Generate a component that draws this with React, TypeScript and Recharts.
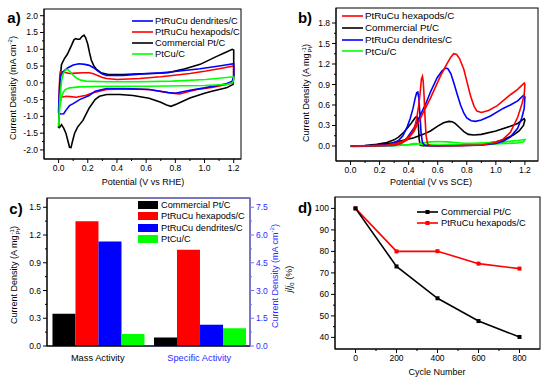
import React from 'react';
import { LineChart, Line, XAxis, YAxis, BarChart, Bar, ReferenceArea } from 'recharts';

const FONT = '"Liberation Sans", Arial, Helvetica, sans-serif';
const BLUE = '#0000ff';
const RED = '#ff0000';
const BLACK = '#000000';
const GREEN = '#00ff00';
const AXIS_BLUE = '#7373ff';
const TEXT_BLUE = '#2b2bff';

// a) CVs, potential (V vs RHE) vs current density (mA cm-2)
const cvaDendrites: [number, number][] = [
  [0.0, -0.9], [0.003, -0.5], [0.008, 0.0], [0.015, 0.22], [0.03, 0.33], [0.064, 0.45], [0.1, 0.53],
  [0.14, 0.57], [0.18, 0.55], [0.21, 0.52], [0.24, 0.45], [0.27, 0.35], [0.3, 0.26], [0.33, 0.22],
  [0.44, 0.22], [0.555, 0.26], [0.7, 0.3], [0.78, 0.33], [0.97, 0.42], [1.1, 0.5], [1.2, 0.57],
  [1.2, 0.2], [1.19, 0.05], [1.15, -0.03], [1.0, -0.15], [0.9, -0.22], [0.8, -0.31], [0.75, -0.29],
  [0.62, -0.2], [0.45, -0.17], [0.33, -0.17], [0.25, -0.25], [0.21, -0.38], [0.144, -0.5],
  [0.1, -0.62], [0.075, -0.68], [0.05, -0.82], [0.035, -0.92], [0.015, -0.93], [0.0, -0.9],
];
const cvaHexapods: [number, number][] = [
  [0.0, -0.85], [0.004, -0.3], [0.008, 0.2], [0.012, 0.33], [0.03, 0.32], [0.075, 0.28], [0.12, 0.29],
  [0.167, 0.3], [0.21, 0.3], [0.24, 0.27], [0.26, 0.23], [0.3, 0.16], [0.33, 0.13], [0.4, 0.1],
  [0.555, 0.13], [0.7, 0.18], [0.78, 0.22], [0.9, 0.28], [1.01, 0.35], [1.1, 0.42], [1.2, 0.5],
  [1.2, 0.15], [1.19, 0.0], [1.15, -0.05], [1.06, -0.13], [0.95, -0.2], [0.9, -0.25], [0.83, -0.33],
  [0.76, -0.3], [0.62, -0.2], [0.45, -0.18], [0.33, -0.2], [0.23, -0.3], [0.19, -0.37], [0.12, -0.43],
  [0.08, -0.41], [0.053, -0.4], [0.02, -0.43], [0.008, -0.6], [0.0, -0.85],
];
const cvaCommercial: [number, number][] = [
  [0.0, -1.35], [0.005, -0.6], [0.012, 0.2], [0.02, 0.55], [0.04, 0.72], [0.06, 0.85], [0.087, 1.1],
  [0.105, 1.28], [0.117, 1.32], [0.13, 1.3], [0.145, 1.3], [0.16, 1.38], [0.174, 1.42], [0.185, 1.35],
  [0.2, 1.15], [0.212, 0.9], [0.224, 0.68], [0.24, 0.52], [0.26, 0.4], [0.29, 0.3], [0.34, 0.25],
  [0.44, 0.25], [0.555, 0.27], [0.65, 0.28], [0.75, 0.3], [0.85, 0.4], [0.97, 0.55], [1.08, 0.78],
  [1.15, 0.92], [1.19, 1.0], [1.2, 0.98], [1.2, 0.2], [1.195, -0.05], [1.15, -0.15], [1.05, -0.25],
  [1.0, -0.31], [0.9, -0.45], [0.81, -0.63], [0.77, -0.7], [0.74, -0.66], [0.7, -0.58], [0.62, -0.46],
  [0.51, -0.38], [0.42, -0.35], [0.33, -0.35], [0.28, -0.4], [0.25, -0.5], [0.21, -0.75], [0.167, -1.12],
  [0.13, -1.32], [0.11, -1.5], [0.095, -1.75], [0.085, -1.93], [0.075, -1.92], [0.065, -1.75],
  [0.05, -1.5], [0.035, -1.35], [0.02, -1.25], [0.008, -1.32], [0.0, -1.35],
];
const cvaPtCu: [number, number][] = [
  [0.0, -1.3], [0.005, -0.8], [0.01, -0.4], [0.02, 0.05], [0.034, 0.3], [0.053, 0.4], [0.065, 0.39],
  [0.075, 0.35], [0.095, 0.25], [0.12, 0.15], [0.15, 0.08], [0.19, 0.05], [0.33, 0.03], [0.55, 0.03],
  [0.78, 0.05], [1.01, 0.1], [1.2, 0.18], [1.2, 0.08], [1.19, 0.0], [1.15, -0.05], [1.0, -0.08],
  [0.6, -0.1], [0.3, -0.1], [0.144, -0.12], [0.075, -0.15], [0.045, -0.2], [0.03, -0.3], [0.015, -0.5],
  [0.005, -0.9], [0.0, -1.3],
];
const cvaXTicks = [0, 0.1, 0.2, 0.3, 0.4, 0.5, 0.6, 0.7, 0.8, 0.9, 1.0, 1.1, 1.2];
const cvaXMajor = [0, 0.2, 0.4, 0.6, 0.8, 1.0, 1.2];
const cvaYTicks = [-2, -1.75, -1.5, -1.25, -1, -0.75, -0.5, -0.25, 0, 0.25, 0.5, 0.75, 1, 1.25, 1.5, 1.75, 2];
const cvaYMajor = [-2, -1.5, -1, -0.5, 0, 0.5, 1, 1.5, 2];

// b) methanol oxidation, potential (V vs SCE) vs mass current (A mg-1 Pt)
const cvbHexapods: [number, number][] = [
  [0, 0], [0.1, 0.0], [0.2, 0.005], [0.3, 0.012], [0.35, 0.04], [0.39, 0.09], [0.436, 0.21], [0.48, 0.4],
  [0.55, 0.7], [0.62, 1.03], [0.665, 1.21], [0.69, 1.3], [0.71, 1.35], [0.73, 1.34], [0.75, 1.28],
  [0.78, 1.12], [0.8, 0.95], [0.826, 0.73], [0.85, 0.58], [0.87, 0.51], [0.9, 0.49], [0.95, 0.52],
  [1.01, 0.59], [1.1, 0.75], [1.15, 0.83], [1.195, 0.92], [1.2, 0.9], [1.195, 0.75], [1.18, 0.62],
  [1.15, 0.42], [1.1, 0.2], [1.05, 0.1], [1.0, 0.05], [0.9, 0.015], [0.75, 0.005], [0.6, 0.003],
  [0.55, 0.008], [0.53, 0.03], [0.52, 0.15], [0.513, 0.4], [0.507, 0.7], [0.5, 0.95], [0.495, 1.02],
  [0.488, 0.98], [0.48, 0.8], [0.47, 0.6], [0.455, 0.4], [0.44, 0.26], [0.413, 0.16], [0.37, 0.08],
  [0.32, 0.04], [0.25, 0.015], [0.15, 0.005], [0, 0],
];
const cvbCommercial: [number, number][] = [
  [0, 0], [0.15, 0.005], [0.2, 0.015], [0.25, 0.03], [0.32, 0.06], [0.436, 0.12], [0.5, 0.17], [0.55, 0.22],
  [0.6, 0.29], [0.64, 0.34], [0.677, 0.36], [0.7, 0.355], [0.72, 0.33], [0.75, 0.27], [0.78, 0.21],
  [0.81, 0.17], [0.85, 0.16], [0.9, 0.17], [1.0, 0.22], [1.1, 0.29], [1.15, 0.33], [1.195, 0.4],
  [1.2, 0.38], [1.19, 0.3], [1.16, 0.22], [1.12, 0.16], [1.05, 0.09], [1.0, 0.06], [0.9, 0.025],
  [0.8, 0.01], [0.6, 0.003], [0.5, 0.003], [0.48, 0.01], [0.472, 0.1], [0.467, 0.3], [0.462, 0.41],
  [0.455, 0.43], [0.447, 0.42], [0.43, 0.37], [0.413, 0.32], [0.39, 0.26], [0.367, 0.2], [0.33, 0.13],
  [0.3, 0.09], [0.25, 0.05], [0.18, 0.025], [0.1, 0.008], [0, 0],
];
const cvbDendrites: [number, number][] = [
  [0, 0], [0.2, 0.003], [0.3, 0.008], [0.35, 0.04], [0.39, 0.12], [0.436, 0.26], [0.48, 0.45], [0.52, 0.63],
  [0.55, 0.79], [0.596, 1.0], [0.63, 1.1], [0.654, 1.14], [0.67, 1.13], [0.69, 1.06], [0.71, 0.93],
  [0.735, 0.75], [0.757, 0.6], [0.78, 0.48], [0.8, 0.41], [0.83, 0.37], [0.86, 0.36], [0.9, 0.38],
  [0.963, 0.44], [1.05, 0.55], [1.1, 0.6], [1.15, 0.66], [1.19, 0.74], [1.2, 0.72], [1.195, 0.55],
  [1.18, 0.42], [1.15, 0.26], [1.1, 0.13], [1.05, 0.07], [1.0, 0.035], [0.9, 0.01], [0.7, 0.003],
  [0.55, 0.003], [0.51, 0.01], [0.495, 0.05], [0.485, 0.2], [0.478, 0.45], [0.47, 0.7], [0.463, 0.79],
  [0.455, 0.78], [0.445, 0.7], [0.43, 0.55], [0.41, 0.4], [0.39, 0.28], [0.36, 0.15], [0.33, 0.08],
  [0.28, 0.03], [0.2, 0.01], [0, 0],
];
const cvbPtCu: [number, number][] = [
  [0, -0.01], [0.2, 0.0], [0.3, 0.005], [0.4, 0.015], [0.45, 0.025], [0.5, 0.045], [0.55, 0.06], [0.6, 0.065],
  [0.665, 0.06], [0.72, 0.05], [0.78, 0.04], [0.85, 0.04], [0.95, 0.05], [1.05, 0.06], [1.15, 0.08],
  [1.2, 0.095], [1.19, 0.06], [1.15, 0.045], [1.0, 0.03], [0.8, 0.02], [0.6, 0.015], [0.5, 0.02],
  [0.45, 0.035], [0.43, 0.035], [0.4, 0.02], [0.3, 0.01], [0.2, 0.0], [0, -0.01],
];
const cvbXTicks = [0, 0.1, 0.2, 0.3, 0.4, 0.5, 0.6, 0.7, 0.8, 0.9, 1.0, 1.1, 1.2];
const cvbXMajor = [0, 0.2, 0.4, 0.6, 0.8, 1.0, 1.2];
const cvbYTicks = [0, 0.15, 0.3, 0.45, 0.6, 0.75, 0.9, 1.05, 1.2, 1.35, 1.5, 1.65, 1.8];
const cvbYMajor = [0, 0.3, 0.6, 0.9, 1.2, 1.5, 1.8];

// c) mass and specific activity
const activityNames = ['Commercial Pt/C', 'PtRuCu hexapods/C', 'PtRuCu dendrites/C', 'PtCu/C'];
const activityColors = [BLACK, RED, BLUE, GREEN];
const massActivity = [0.35, 1.35, 1.13, 0.13]; // A mg-1 Pt
const specificActivity = [0.46, 5.2, 1.15, 0.96]; // mA cm-2
const actLeftTicks = [0, 0.15, 0.3, 0.45, 0.6, 0.75, 0.9, 1.05, 1.2, 1.35, 1.5];
const actLeftMajor = [0, 0.3, 0.6, 0.9, 1.2, 1.5];
const actRightTicks = [0, 0.75, 1.5, 2.25, 3, 3.75, 4.5, 5.25, 6, 6.75, 7.5];
const actRightMajor = [0, 1.5, 3, 4.5, 6, 7.5];

// d) stability
const cycles = [0, 200, 400, 600, 800];
const retentionCommercial = [100, 73, 58.2, 47.6, 40.2];
const retentionHexapods = [100, 80, 80.1, 74.3, 72];
const cycleTicks = [0, 100, 200, 300, 400, 500, 600, 700, 800];
const cycleMajor = [0, 200, 400, 600, 800];
const retTicks = [40, 45, 50, 55, 60, 65, 70, 75, 80, 85, 90, 95, 100];
const retMajor = [40, 50, 60, 70, 80, 90, 100];

const toXY = (pts: [number, number][]) => pts.map(([x, y]) => ({ x, y }));

const activityRows = [
  massActivity.reduce((row: any, v, i) => ({ ...row, [`m${i}`]: v }), { cat: 'Mass Activity' }),
  specificActivity.reduce((row: any, v, i) => ({ ...row, [`s${i}`]: v }), { cat: 'Specific Activity' }),
];
const stabilityRows = cycles.map((c, i) => ({
  cycle: c,
  commercial: retentionCommercial[i],
  hexapods: retentionHexapods[i],
}));

const f1 = (v: number) => v.toFixed(1);
const f0 = (v: number) => String(v);

type Side = 'left' | 'right' | 'bottom';
const tickRenderer = (side: Side, majors: number[], fmt: (v: number) => string, color = BLACK, textColor = BLACK) =>
  (props: any) => {
    const { x, y, payload } = props;
    const v = Number(payload.value);
    const major = majors.some((m) => Math.abs(m - v) < 1e-9);
    const len = major ? 4 : 2;
    if (side === 'bottom') {
      return (
        <g>
          <line x1={x} x2={x} y1={y} y2={y + len} stroke={color} />
          {major && (
            <text x={x} y={y + 12} textAnchor="middle" fontSize={8.5} fontFamily={FONT} fill={textColor}>
              {fmt(v)}
            </text>
          )}
        </g>
      );
    }
    const dir = side === 'left' ? -1 : 1;
    return (
      <g>
        <line x1={x} x2={x + dir * len} y1={y} y2={y} stroke={color} />
        {major && (
          <text x={x + dir * 6} y={y + 3} textAnchor={dir < 0 ? 'end' : 'start'} fontSize={8.5} fontFamily={FONT} fill={textColor}>
            {fmt(v)}
          </text>
        )}
      </g>
    );
  };

const catTick = (props: any) => {
  const { x, y, payload } = props;
  const col = payload.value === 'Specific Activity' ? TEXT_BLUE : BLACK;
  return (
    <text x={x} y={y + 15} textAnchor="middle" fontSize={9.3} fontFamily={FONT} fill={col}>
      {payload.value}
    </text>
  );
};

const frame = (color: string, sides: 'all' | 'tb' = 'all') => (p: any) => {
  const { x, y, width, height } = p;
  if (sides === 'tb') {
    return (
      <g>
        <line x1={x} x2={x + width} y1={y} y2={y} stroke={color} />
        <line x1={x} x2={x + width} y1={y + height} y2={y + height} stroke={color} />
      </g>
    );
  }
  return <rect x={x} y={y} width={width} height={height} fill="none" stroke={color} />;
};

const mgPt = (
  <span style={{ display: 'inline-flex', flexDirection: 'column', fontSize: 6, lineHeight: '6px', verticalAlign: 'middle', marginLeft: 1 }}>
    <span>-1</span>
    <span>Pt</span>
  </span>
);

type LegendItem = { name: string; color: string };
const Legend = ({ left, top, rowH, fontSize, items, kind, gap }: {
  left: number; top: number; rowH: number; fontSize: number; items: LegendItem[]; kind: 'line' | 'box' | 'marker'; gap: number;
}) => (
  <>
    {items.map((it, i) => (
      <div key={it.name} style={{
        position: 'absolute', left, top: top + i * rowH - 6, height: 12, display: 'flex', alignItems: 'center',
        whiteSpace: 'nowrap', fontFamily: FONT, fontSize, color: BLACK,
      }}>
        <svg width={kind === 'box' ? 20 : 21} height={12} style={{ display: 'block' }}>
          {kind === 'box' && <rect x={0} y={2} width={20} height={8} fill={it.color} />}
          {kind !== 'box' && <line x1={0} x2={21} y1={6} y2={6} stroke={it.color} strokeWidth={1.6} />}
          {kind === 'marker' && <rect x={8.5} y={4} width={4} height={4} fill={it.color} />}
        </svg>
        <span style={{ marginLeft: gap }}>{it.name}</span>
      </div>
    ))}
  </>
);

const Txt = ({ x, y, rotate, size = 9, color = BLACK, children, bold }: any) => (
  <div style={{
    position: 'absolute', left: x, top: y, transform: `translate(-50%, -50%)${rotate ? ' rotate(-90deg)' : ''}`,
    whiteSpace: 'nowrap', fontFamily: FONT, fontSize: size, color, fontWeight: bold ? 'bold' : 'normal', lineHeight: 1,
  }}>
    {children}
  </div>
);

const squareDot = (color: string) => (p: any) => (
  <rect key={`${color}-${p.index}`} x={p.cx - 2} y={p.cy - 2} width={4} height={4} fill={color} />
);

export default function App() {
  return (
    <div style={{ position: 'absolute', left: 0, top: 0, width: 549, height: 385, background: '#fff', overflow: 'hidden' }}>
      {/* a) */}
      <div style={{ position: 'absolute', left: 0, top: 0 }}>
        <LineChart width={275} height={190} margin={{ top: 9, right: 34, bottom: 11, left: 4 }}>
          <XAxis type="number" dataKey="x" domain={[-0.1, 1.25]} allowDataOverflow ticks={cvaXTicks} interval={0}
            tickSize={0} tickMargin={0} tickLine={false} height={20} stroke={BLACK}
            tick={tickRenderer('bottom', cvaXMajor, f1)} />
          <YAxis type="number" dataKey="y" domain={[-2.27, 2.2]} allowDataOverflow ticks={cvaYTicks} interval={0}
            tickSize={0} tickMargin={0} tickLine={false} width={40} stroke={BLACK}
            tick={tickRenderer('left', cvaYMajor, f1)} />
          <ReferenceArea y1={-2.27} y2={2.2} shape={frame(BLACK)} />
          <Line data={toXY(cvaCommercial)} dataKey="y" type="linear" stroke={BLACK} strokeWidth={1.6} dot={false} isAnimationActive={false} />
          <Line data={toXY(cvaHexapods)} dataKey="y" type="linear" stroke={RED} strokeWidth={1.6} dot={false} isAnimationActive={false} />
          <Line data={toXY(cvaDendrites)} dataKey="y" type="linear" stroke={BLUE} strokeWidth={1.6} dot={false} isAnimationActive={false} />
          <Line data={toXY(cvaPtCu)} dataKey="y" type="linear" stroke={GREEN} strokeWidth={1.6} dot={false} isAnimationActive={false} />
        </LineChart>
      </div>
      {/* b) */}
      <div style={{ position: 'absolute', left: 275, top: 0 }}>
        <LineChart width={274} height={190} margin={{ top: 8, right: 11, bottom: 9, left: 1 }}>
          <XAxis type="number" dataKey="x" domain={[-0.1, 1.29]} allowDataOverflow ticks={cvbXTicks} interval={0}
            tickSize={0} tickMargin={0} tickLine={false} height={20} stroke={BLACK}
            tick={tickRenderer('bottom', cvbXMajor, f1)} />
          <YAxis type="number" dataKey="y" domain={[-0.22, 2.02]} allowDataOverflow ticks={cvbYTicks} interval={0}
            tickSize={0} tickMargin={0} tickLine={false} width={60} stroke={BLACK}
            tick={tickRenderer('left', cvbYMajor, f1)} />
          <ReferenceArea y1={-0.22} y2={2.02} shape={frame(BLACK)} />
          <Line data={toXY(cvbCommercial)} dataKey="y" type="linear" stroke={BLACK} strokeWidth={1.6} dot={false} isAnimationActive={false} />
          <Line data={toXY(cvbPtCu)} dataKey="y" type="linear" stroke={GREEN} strokeWidth={1.6} dot={false} isAnimationActive={false} />
          <Line data={toXY(cvbDendrites)} dataKey="y" type="linear" stroke={BLUE} strokeWidth={1.6} dot={false} isAnimationActive={false} />
          <Line data={toXY(cvbHexapods)} dataKey="y" type="linear" stroke={RED} strokeWidth={1.6} dot={false} isAnimationActive={false} />
        </LineChart>
      </div>
      {/* c) */}
      <div style={{ position: 'absolute', left: 0, top: 190 }}>
        <BarChart width={275} height={195} data={activityRows} margin={{ top: 8, right: 5, bottom: 19, left: 7 }}
          barCategoryGap="5.4%" barGap={0}>
          <XAxis xAxisId="m" dataKey="cat" type="category" height={20} tickLine={false} stroke={BLACK}
            tickSize={0} tickMargin={0} tick={catTick} interval={0} />
          <XAxis xAxisId="s" dataKey="cat" type="category" hide />
          <YAxis yAxisId="left" domain={[0, 1.6]} allowDataOverflow ticks={actLeftTicks} interval={0}
            tickSize={0} tickMargin={0} tickLine={false} width={40} stroke={BLACK}
            tick={tickRenderer('left', actLeftMajor, f1)} />
          <YAxis yAxisId="right" orientation="right" domain={[0, 8]} allowDataOverflow ticks={actRightTicks} interval={0}
            tickSize={0} tickMargin={0} tickLine={false} width={20} stroke={AXIS_BLUE}
            tick={tickRenderer('right', actRightMajor, f1, AXIS_BLUE, TEXT_BLUE)} />
          <ReferenceArea xAxisId="m" yAxisId="left" y1={0} y2={1.6} shape={frame(BLACK)} />
          <ReferenceArea xAxisId="m" yAxisId="left" x1="Specific Activity" x2="Specific Activity" y1={0} y2={1.6}
            shape={frame(AXIS_BLUE, 'tb')} />
          {activityNames.map((n, i) => (
            <Bar key={`m${i}`} xAxisId="m" yAxisId="left" dataKey={`m${i}`} name={n} fill={activityColors[i]} isAnimationActive={false} />
          ))}
          {activityNames.map((n, i) => (
            <Bar key={`s${i}`} xAxisId="s" yAxisId="right" dataKey={`s${i}`} name={n} fill={activityColors[i]} isAnimationActive={false} />
          ))}
        </BarChart>
      </div>
      {/* d) */}
      <div style={{ position: 'absolute', left: 275, top: 190 }}>
        <LineChart width={274} height={195} data={stabilityRows} margin={{ top: 7, right: 9, bottom: 16, left: 0 }}>
          <XAxis type="number" dataKey="cycle" domain={[-100, 900]} allowDataOverflow ticks={cycleTicks} interval={0}
            tickSize={0} tickMargin={0} tickLine={false} height={20} stroke={BLACK}
            tick={tickRenderer('bottom', cycleMajor, f0)} />
          <YAxis type="number" domain={[34.6, 105.3]} allowDataOverflow ticks={retTicks} interval={0}
            tickSize={0} tickMargin={0} tickLine={false} width={60} stroke={BLACK}
            tick={tickRenderer('left', retMajor, f0)} />
          <ReferenceArea y1={34.6} y2={105.3} shape={frame(BLACK)} />
          <Line dataKey="hexapods" type="linear" stroke={RED} strokeWidth={1.6} dot={squareDot(RED)} isAnimationActive={false} />
          <Line dataKey="commercial" type="linear" stroke={BLACK} strokeWidth={1.6} dot={squareDot(BLACK)} isAnimationActive={false} />
        </LineChart>
      </div>

      {/* panel labels */}
      <Txt x={14} y={17} size={15} bold>a)</Txt>
      <Txt x={305} y={17} size={15} bold>b)</Txt>
      <Txt x={16} y={208} size={15} bold>c)</Txt>
      <Txt x={305} y={207} size={15} bold>d)</Txt>

      {/* axis titles */}
      <Txt x={143} y={182}>Potential (V vs RHE)</Txt>
      <Txt x={12} y={88} rotate>Current Density (mA cm<sup style={{ fontSize: 6 }}>-2</sup>)</Txt>
      <Txt x={431} y={182}>Potential (V vs SCE)</Txt>
      <Txt x={307} y={93} rotate>Current Density (A mg{mgPt})</Txt>
      <Txt x={15} y={275} rotate>Current Density (A mg{mgPt})</Txt>
      <Txt x={274} y={276} rotate color={TEXT_BLUE}>Current Density (mA cm<sup style={{ fontSize: 6 }}>-2</sup>)</Txt>
      <Txt x={437} y={372}>Cycle Number</Txt>
      <Txt x={290} y={279} rotate><i>j</i>/<i>j</i><sub style={{ fontSize: 6 }}>0</sub> (%)</Txt>

      {/* legends */}
      <Legend left={132} top={21} rowH={11.1} fontSize={9.3} kind="line" gap={2}
        items={[{ name: 'PtRuCu dendrites/C', color: BLUE }, { name: 'PtRuCu hexapods/C', color: RED },
          { name: 'Commercial Pt/C', color: BLACK }, { name: 'PtCu/C', color: GREEN }]} />
      <Legend left={342} top={15.7} rowH={11.9} fontSize={9.8} kind="line" gap={2}
        items={[{ name: 'PtRuCu hexapods/C', color: RED }, { name: 'Commercial Pt/C', color: BLACK },
          { name: 'PtRuCu dendrites/C', color: BLUE }, { name: 'PtCu/C', color: GREEN }]} />
      <Legend left={138} top={205} rowH={11.3} fontSize={9.2} kind="box" gap={3}
        items={activityNames.map((n, i) => ({ name: n, color: activityColors[i] }))} />
      <Legend left={417} top={211.7} rowH={11} fontSize={9.3} kind="marker" gap={3}
        items={[{ name: 'Commercial Pt/C', color: BLACK }, { name: 'PtRuCu hexapods/C', color: RED }]} />
    </div>
  );
}
